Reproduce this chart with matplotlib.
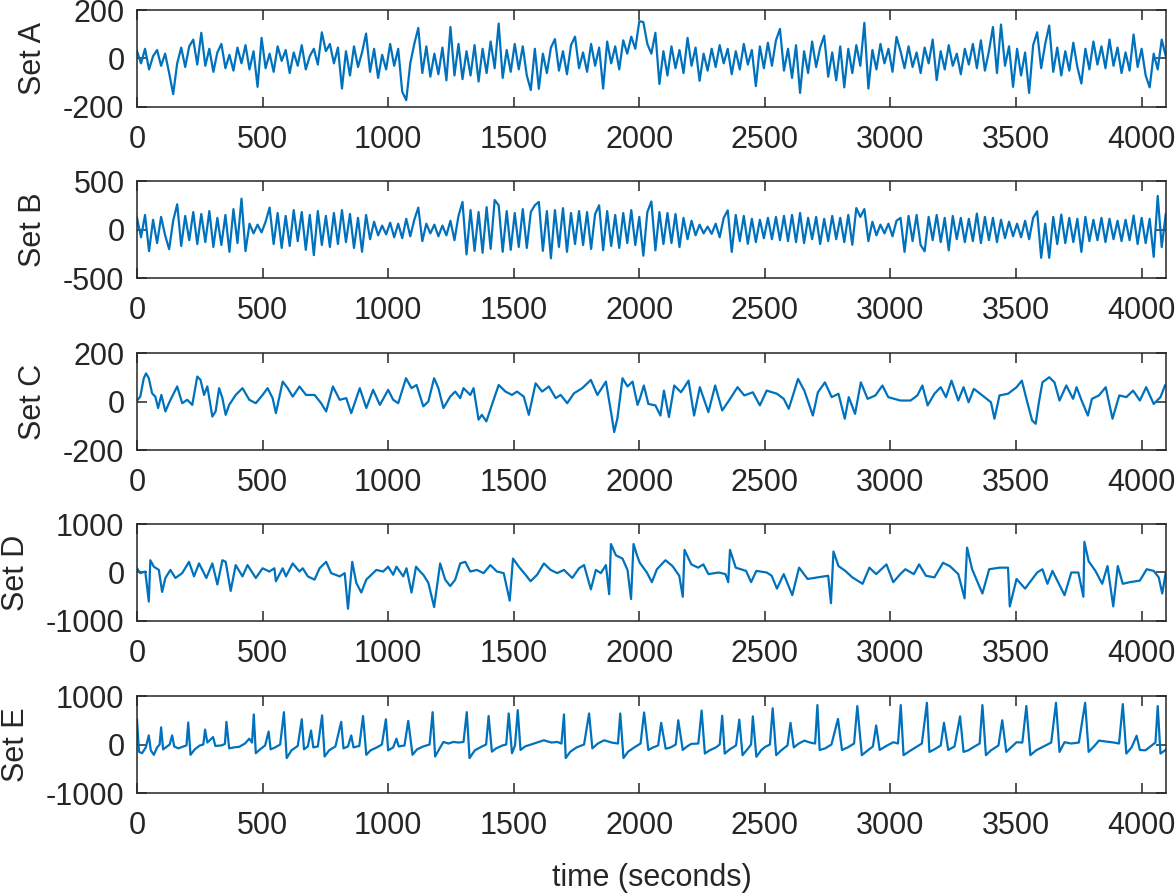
import numpy as np
import matplotlib.pyplot as plt

# Set A and Set B: values read every 16 s
step = 16
set_a = [30, -20, 40, -45, 10, 35, -30, 20, -60, -147, -20, 45, -35, 50, 78, -25,
         106, -30, 40, -55, 25, 60, -40, 15, -50, 45, -20, 55, -45, 30, -117, 85,
         -40, 20, -55, 50, -10, 35, -60, 25, -30, 55, -45, 10, 40, -25, 108, 30,
         60, -20, 45, -124, 30, -70, 50, -35, 25, 103, -55, 40, -80, 15, -45, 60,
         -30, 40, -137, -172, -20, 60, 126, -60, 50, -75, 20, -65, 45, -90, 130, -70,
         60, -85, 30, -70, 55, -95, 40, -60, 70, -40, 144, -80, 35, -55, 60, -45,
         50, -70, -130, 40, -125, 20, -60, 45, 80, -50, 30, -65, 55, 90, -40, 25,
         -55, 60, -30, 45, -124, 70, -20, 50, -45, 75, 20, 90, 40, 154, 150, 60,
         20, 106, -105, 30, -70, 50, -40, 35, -60, 85, -30, 45, -92, 20, -50, 40,
         -35, 55, -20, 40, -65, 30, -45, 60, -25, 35, -114, 50, -40, 65, -30, 75,
         122, -50, 40, -80, 55, -142, 30, -60, 70, -35, 45, 94, -75, 25, -90, 50,
         -119, 40, -60, 55, -30, 147, -124, 35, -45, 60, -20, 40, -55, 89, 30, -40,
         50, -35, 25, -60, 45, -20, 78, -89, 30, -45, 55, -30, 20, -65, 40, -25,
         60, -40, 75, -50, 30, 130, -60, 140, -30, 50, -117, 40, -70, 25, -142, 55,
         108, -40, 60, 136, -55, 45, -70, 30, -50, 65, -35, -103, 40, -45, 70, -25,
         50, -40, 78, -30, 45, -60, 25, -50, 99, -35, 40, -70, -119, 20, -45, 78,
         10]

set_b = [120, -80, 150, -223, 100, -140, 130, -60, -203, 90, 260, -170, 140, -110, 180, -150,
         160, -130, 190, -180, 120, -160, 150, -230, 210, -140, 318, -223, 60, -40, 50, -30,
         80, 226, -150, 170, -190, 140, -170, 200, -120, 180, -210, 150, -264, 190, -160, 140,
         -180, 170, -150, 200, -130, 160, -190, 120, -230, 150, -100, 80, -60, 40, -50, 70,
         -80, 60, -90, 110, -70, 100, 226, -120, 60, -40, 50, -70, 40, -60, 90, -110,
         140, 284, -257, 200, -220, 180, -240, 230, -200, 304, 250, -230, 190, -210, 170, -180,
         210, -190, 180, 250, 284, -220, 190, -297, 200, -180, 220, -230, 170, -150, 190, -160,
         180, -200, 160, 250, -213, 190, -170, 150, -190, 170, -140, 200, -160, 130, -270, 180,
         289, -215, 180, -150, 170, -140, 160, -181, 120, -100, 90, -60, 50, -40, 30, -45,
         60, -80, 120, 198, -231, 150, -120, 140, -148, 110, -130, 100, -90, 120, -100, 130,
         -110, 140, -120, 150, -130, 171, -140, 120, -100, 130, -150, 110, -120, 140, -100, 120,
         -130, 150, -158, 221, 130, 211, -120, 80, -60, 50, -40, 60, -70, 90, 120, -231,
         140, -120, 150, -160, -225, 130, -110, 150, -130, 120, -215, 140, -100, 120, -130, 110,
         -120, 164, -140, 130, -110, 120, -130, 100, -90, 80, -70, 60, -80, 90, -100, 120,
         188, -292, 60, -292, 130, -150, 154, -140, 120, -130, 110, -231, 130, -120, 100, -110,
         120, -130, 110, -100, 90, -120, 100, -110, 144, -150, 120, -140, 110, -282, 346, -181,
         160]

# Set C, D, E: (time, value) readings
set_c_t = [0, 13, 27, 36, 47, 60, 73, 84, 97, 113, 127, 143, 160, 180, 200, 220, 240, 253, 267, 280,
           300, 313, 327, 340, 353, 367, 393, 420, 447, 473, 500, 520, 540, 553, 580, 600, 620, 647,
           673, 707, 733, 753, 780, 807, 833, 853, 887, 913, 940, 967, 1000, 1020, 1040, 1071, 1093,
           1113, 1140, 1160, 1183, 1200, 1220, 1247, 1267, 1287, 1300, 1327, 1340, 1360, 1373, 1391,
           1413, 1440, 1467, 1493, 1513, 1540, 1560, 1587, 1613, 1640, 1667, 1687, 1713, 1740, 1773,
           1807, 1833, 1867, 1887, 1900, 1913, 1933, 1953, 1973, 1993, 2002, 2018, 2036, 2064, 2084,
           2098, 2118, 2139, 2166, 2196, 2218, 2241, 2275, 2302, 2330, 2357, 2391, 2418, 2452, 2480,
           2507, 2548, 2575, 2595, 2632, 2657, 2691, 2711, 2739, 2766, 2793, 2818, 2834, 2859, 2882,
           2909, 2940, 2968, 2991, 3039, 3080, 3107, 3127, 3148, 3175, 3200, 3221, 3243, 3270, 3291,
           3311, 3332, 3366, 3400, 3414, 3434, 3468, 3502, 3523, 3543, 3564, 3578, 3591, 3605, 3632,
           3653, 3673, 3700, 3727, 3741, 3761, 3786, 3802, 3830, 3857, 3884, 3911, 3939, 3966, 3993,
           4018, 4048, 4075, 4093]
set_c_v = [4, 20, 96, 116, 96, 34, 20, -27, 27, -41, -7, 27, 62, -7, 7, -14, 103, 89, 27, 62,
           -62, -41, 55, 14, -55, -14, 27, 55, 7, -7, 27, 55, 14, -48, 82, 55, 20, 62,
           27, 27, -7, -41, 62, 7, 14, -48, 55, -27, 48, -14, 48, 7, -7, 96, 55,
           68, -20, 0, 96, 55, -27, 20, 41, 14, 55, 27, 55, -75, -55, -82,
           -14, 68, 41, 27, 41, 20, -55, 75, 41, 62, 14, 27, -7, 34, 55,
           89, 27, 82, -41, -126, -68, 96, 62, 82, -14, 11, 66, -10, -16, -58,
           45, -64, 66, 38, 86, -58, 59, -44, 66, -37, 4, 59, 25, 38, -16,
           45, 32, 11, -30, 93, 45, -58, 38, 79, 18, 32, -71, 18, -51, 79,
           11, 25, 66, 18, 4, 4, 25, 66, -16, 32, 59, 18, 86, 4, 59,
           -3, 52, 25, -3, -71, 25, 32, 59, 86, 4, -78, -92, -3, 79, 100,
           79, 4, 66, 11, 59, 4, -58, 11, 25, 59, -71, 25, 18, 45, 4,
           59, -10, 18, 66]

set_d_t = [0, 13, 33, 47, 53, 67, 87, 100, 113, 133, 153, 180, 207, 227, 247, 276, 300, 320, 340, 353,
           373, 393, 420, 440, 473, 500, 527, 547, 553, 580, 593, 620, 647, 660, 680, 707, 727, 753,
           773, 807, 827, 840, 857, 873, 893, 913, 953, 980, 1000, 1020, 1033, 1060, 1073, 1093, 1111,
           1127, 1140, 1160, 1183, 1207, 1227, 1247, 1267, 1287, 1307, 1327, 1353, 1380, 1407, 1433,
           1460, 1484, 1497, 1520, 1547, 1567, 1593, 1620, 1647, 1673, 1700, 1733, 1760, 1780, 1807,
           1827, 1847, 1867, 1880, 1887, 1907, 1933, 1953, 1967, 1977, 1993, 2002, 2030, 2050, 2070,
           2104, 2132, 2159, 2173, 2180, 2207, 2234, 2255, 2275, 2316, 2343, 2354, 2361, 2384, 2425,
           2445, 2466, 2507, 2527, 2548, 2575, 2609, 2636, 2670, 2711, 2752, 2763, 2773, 2793, 2820,
           2848, 2889, 2916, 2943, 2984, 3011, 3039, 3059, 3093, 3114, 3141, 3175, 3209, 3236, 3270,
           3295, 3305, 3325, 3366, 3393, 3434, 3468, 3475, 3502, 3536, 3584, 3605, 3625, 3645, 3693,
           3720, 3748, 3768, 3772, 3789, 3816, 3843, 3864, 3887, 3905, 3925, 3952, 3993, 4020, 4048,
           4068, 4082, 4095]
set_d_v = [87, -13, 20, -600, 253, 120, 53, -400, -113, 53, -113, -13, 220, -80, 187, -113, 187, -247, 253, 220,
           -380, 153, -80, 153, -113, 87, 20, 87, -180, 87, -80, 187, 20, 87, -80, -147, 87, 220,
           -13, -80, -13, -747, 220, -213, -413, -147, 53, 20, 120, -47, 120, -80, 87, -413, 120,
           20, -47, -213, -713, 187, -147, -280, -147, 187, 220, 20, 53, -13, 153, 20,
           -13, -580, 287, 120, -47, -180, -47, 187, 53, -13, 53, -113, 87, 153, -347,
           53, -13, 153, -447, 587, 353, 287, 53, -547, 587, 320, 200, 0, -200, 67,
           253, 133, -67, -500, 467, 167, 100, 167, -33, 0, -33, -200, 467, 100, 33,
           -200, 33, 0, -67, -333, -33, -467, 100, -133, -100, -67, -633, 433, 133, 33,
           -100, -233, 100, -33, 167, -200, -33, 67, -33, 167, -67, -100, 200, 133, -33,
           -533, 513, 67, -433, 67, 100, 100, -700, -133, -333, 0, 67, -233, 33, -467,
           0, 0, -500, 633, 233, 33, -233, 133, -700, 133, -233, -200, -167, 67, 33,
           -100, -433, -33]

set_e_t = [0, 8, 20, 35, 47, 55, 67, 80, 90, 96, 104, 115, 130, 140, 148, 165, 185, 197, 204, 213,
           230, 250, 264, 271, 280, 303, 312, 335, 350, 356, 367, 385, 407, 430, 447, 458, 465, 473,
           490, 510, 524, 532, 550, 570, 585, 596, 615, 640, 656, 665, 680, 693, 702, 720, 737, 747,
           765, 790, 813, 822, 840, 853, 862, 885, 900, 913, 930, 955, 975, 991, 1000, 1020, 1033,
           1042, 1065, 1080, 1097, 1115, 1140, 1165, 1177, 1187, 1205, 1220, 1240, 1260, 1280, 1300,
           1313, 1324, 1345, 1370, 1390, 1400, 1413, 1430, 1455, 1470, 1480, 1493, 1505, 1516, 1527,
           1545, 1580, 1620, 1650, 1673, 1690, 1700, 1707, 1725, 1750, 1780, 1800, 1813, 1835, 1860,
           1890, 1915, 1924, 1937, 1955, 1980, 2005,
           2019, 2036, 2055, 2075, 2087, 2105, 2125, 2145, 2155, 2173, 2190, 2207, 2235, 2248, 2261,
           2280, 2305, 2320, 2330, 2340, 2360, 2385, 2398, 2411, 2430, 2445, 2452, 2466, 2485, 2500,
           2520, 2531, 2545, 2565, 2590, 2602, 2615, 2635, 2657, 2680, 2700, 2709, 2718, 2740, 2765,
           2791, 2807, 2830, 2855, 2868, 2886, 2905, 2930, 2943, 2957, 2980, 3011, 3030, 3041, 3052,
           3075, 3100, 3125, 3145, 3155, 3175, 3200, 3213, 3230, 3255, 3277, 3291, 3310, 3335, 3355,
           3366, 3380, 3400, 3430, 3445, 3461, 3480, 3502, 3525, 3541, 3557, 3580, 3610, 3640, 3659,
           3673, 3693, 3720, 3750, 3775, 3789, 3810, 3830, 3860, 3890, 3910, 3925, 3939, 3960, 3980,
           3993, 4015, 4040, 4055, 4064, 4075, 4095]
set_e_v = [520, -150, -180, -60, 187, -120, -213, -60, 0, 353, -100, -60, 0, 187, -40, -80, -40, -20, 453, -213,
           -100, -20, 0, 307, 40, 153, -30, -20, 10, 467, -80, -60, -47, 20, 120, 40, 620, -180,
           -100, -20, 267, -100, -60, 0, 667, -280, -120, -30, 520, -100, -40, 287, -60, -40, 600, -247,
           -120, -40, 467, -80, -40, 187, -60, -30, 587, -213, -120, -60, 0, 520, -120, -60, 120,
           -40, -20, 487, -213, -100, -40, 0, 667, -247, -80, 53, 20, 53, 40, 53,
           667, -280, -120, -50, 0, 587, -147, -80, -20, 0, 640, -180, -20, 707, -113,
           -40, 20, 87, 40, 53, 20, 620, -280, -150, -60, 0, 640, -80, 20, 87,
           40, 20, 640, -280, -150, -60, 20,
           660, -113, -60, -20, 447, -87, -60, 0, 500, -113, -40, 13, 20, 700, -187,
           -120, -60, 0, 593, -187, -100, -20, 513, -220, -100, 0, 580, -253, -120, -53,
           0, 747, -220, -120, -20, 447, -60, 20, 80, 40, 20, 813, -113, -80, 0,
           527, -113, -60, 20, 793, -220, -140, -40, 393, -113, -40, 47, 20, 813, -220,
           -140, -60, 20, 860, -153, -100, -20, 447, -113, -40, 580, -153, -120, -40, 20,
           813, -220, -120, -20, 500, -153, -60, 47, 40, 793, -220, -120, -40, 40, 860,
           -153, 47, 20, 40, 860, -153, -40, 80, 60, 40, 20, 833, -187, -60, 180,
           -113, -120, -20, 40, 793, -187, -113]

labels = ["Set A", "Set B", "Set C", "Set D", "Set E"]
limits = [200, 500, 200, 1000, 1000]

t_a = np.arange(len(set_a)) * step
t_b = np.arange(len(set_b)) * step
series = [(t_a, set_a), (t_b, set_b), (set_c_t, set_c_v), (set_d_t, set_d_v), (set_e_t, set_e_v)]

plt.rcParams['font.family'] = ['Liberation Sans', 'DejaVu Sans']
plt.rcParams['axes.unicode_minus'] = False
dark = '#262626'
fs = 22

fig = plt.figure(figsize=(11.76, 8.96), dpi=100)
W, H = 1176, 896
tops = [10, 181, 353, 524, 696]
ph = 97

for i, ((t, v), lab, lim) in enumerate(zip(series, labels, limits)):
    ax = fig.add_axes([137 / W, 1 - (tops[i] + ph) / H, 1029 / W, ph / H])
    ax.plot(t, v, color='#0072BD', lw=1.6)
    ax.set_xlim(0, 4097)
    ax.set_ylim(-lim, lim)
    ax.set_yticks([-lim, 0, lim])
    ax.set_xticks(np.arange(0, 4001, 500))
    ax.tick_params(direction='in', top=True, right=True, length=7, width=1.1,
                   labelsize=fs, colors=dark, pad=9)
    ax.tick_params(axis='x', pad=13)
    for s in ax.spines.values():
        s.set_color(dark)
        s.set_linewidth(1.1)
    ax.set_ylabel(lab, fontsize=fs, color=dark, labelpad=11)
    if i == 4:
        ax.set_xlabel("time (seconds)", fontsize=fs, color=dark, labelpad=16)

fig.savefig("out.png", dpi=100)
